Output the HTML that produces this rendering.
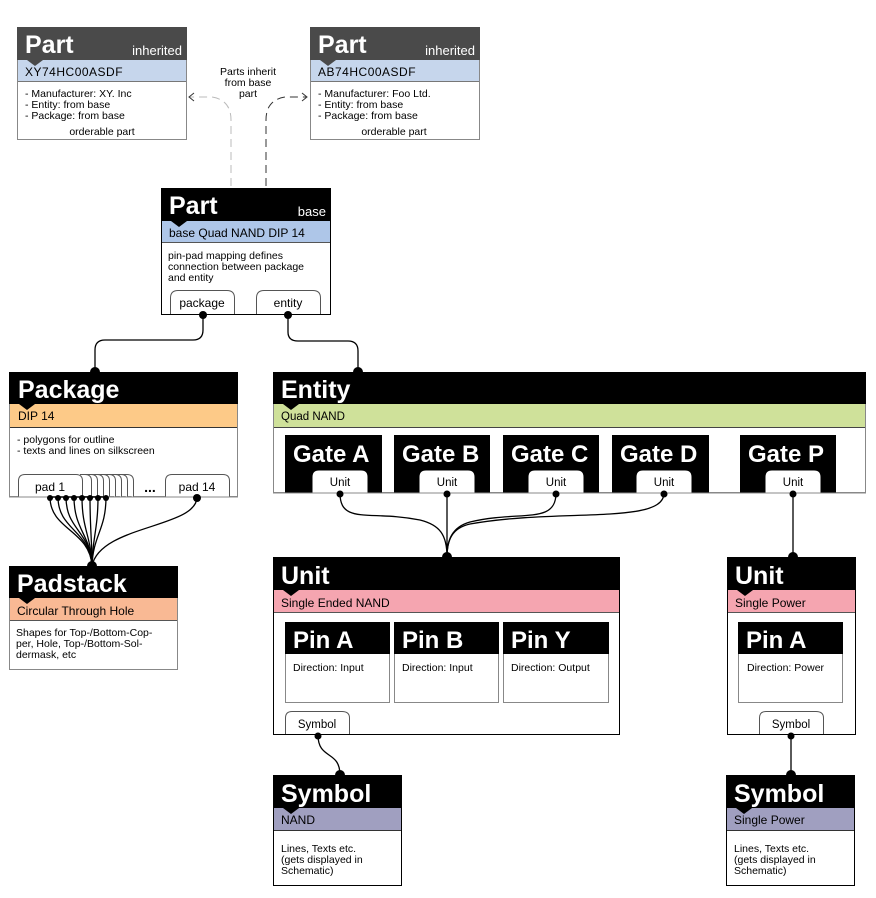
<!DOCTYPE html>
<html><head><meta charset="utf-8"><style>
html,body{margin:0;padding:0;background:#fff;}
svg{display:block;font-family:"Liberation Sans",sans-serif;}
.t{font-weight:bold;font-size:25px;fill:#fff;}
.tp{font-weight:bold;font-size:24px;fill:#fff;}
.s{font-size:12px;fill:#000;}
.b{font-size:10.5px;fill:#000;}
.tab{fill:#fff;stroke:#555;stroke-width:1;}
.c{fill:none;stroke:#000;stroke-width:1.3;}
</style></head><body>
<svg width="876" height="898" viewBox="0 0 876 898" xmlns="http://www.w3.org/2000/svg">
<path d="M231,186 V120 Q231,100 212,97 H190" fill="none" stroke="#bbb" stroke-width="1" stroke-dasharray="8,5"/>
<path d="M266,186 V120 Q266,100 285,97 H306" fill="none" stroke="#333" stroke-width="1" stroke-dasharray="8,5"/>
<path d="M194,93 L189,97 L194,101" fill="none" stroke="#333" stroke-width="1"/>
<path d="M302,93 L307,97 L302,101" fill="none" stroke="#333" stroke-width="1"/>
<text x="248" y="75" text-anchor="middle" class="b" fill="#333">Parts inherit</text>
<text x="248" y="86" text-anchor="middle" class="b">from base</text>
<text x="248" y="97" text-anchor="middle" class="b">part</text>

<rect x="17.5" y="27.5" width="169" height="112" fill="#fff" stroke="#888"/>
<rect x="17" y="27" width="170" height="33" fill="#4a4a4a"/>
<rect x="18" y="60" width="168" height="21" fill="#c6d6ec"/>
<line x1="18" y1="81.5" x2="186" y2="81.5" stroke="#777"/>
<path d="M27,60 L35,66 L43,60Z" fill="#4a4a4a"/>
<text x="25" y="53" class="t">Part</text>
<text x="182" y="55" text-anchor="end" style="font-size:13px;fill:#fff">inherited</text>
<text x="25" y="76" class="s" fill="#333" style="letter-spacing:0.5px">XY74HC00ASDF</text>
<text x="25" y="97" class="b">- Manufacturer: XY. Inc</text>
<text x="25" y="108" class="b">- Entity:  from base</text>
<text x="25" y="119" class="b">- Package: from base</text>
<text x="102" y="135" text-anchor="middle" class="b">orderable part</text>

<rect x="310.5" y="27.5" width="169" height="112" fill="#fff" stroke="#888"/>
<rect x="310" y="27" width="170" height="33" fill="#4a4a4a"/>
<rect x="311" y="60" width="168" height="21" fill="#c6d6ec"/>
<line x1="311" y1="81.5" x2="479" y2="81.5" stroke="#777"/>
<path d="M320,60 L328,66 L336,60Z" fill="#4a4a4a"/>
<text x="318" y="53" class="t">Part</text>
<text x="475" y="55" text-anchor="end" style="font-size:13px;fill:#fff">inherited</text>
<text x="318" y="76" class="s" style="letter-spacing:0.5px">AB74HC00ASDF</text>
<text x="318" y="97" class="b">- Manufacturer: Foo Ltd.</text>
<text x="318" y="108" class="b">- Entity:  from base</text>
<text x="318" y="119" class="b">- Package: from base</text>
<text x="394" y="135" text-anchor="middle" class="b">orderable part</text>

<rect x="161.5" y="188.5" width="169" height="126" fill="#fff" stroke="#000"/>
<rect x="161" y="188" width="170" height="33" fill="#000"/>
<rect x="162" y="221" width="168" height="21" fill="#aec6e8"/>
<line x1="162" y1="242.5" x2="330" y2="242.5" stroke="#555"/>
<path d="M171,221 L179,227 L187,221Z" fill="#000"/>
<text x="169" y="214" class="t">Part</text>
<text x="326" y="216" text-anchor="end" style="font-size:13px;fill:#fff">base</text>
<text x="169" y="237" class="s">base Quad NAND DIP 14</text>
<text x="168" y="259" class="b">pin-pad mapping defines</text>
<text x="168" y="270" class="b">connection between package</text>
<text x="168" y="281" class="b">and entity</text>
<path class="tab" d="M170.5,314 V298 Q170.5,290.5 178,290.5 H227 Q234.5,290.5 234.5,298 V314"/>
<text x="202" y="307" text-anchor="middle" class="s">package</text>
<path class="tab" d="M256.5,314 V298 Q256.5,290.5 264,290.5 H313 Q320.5,290.5 320.5,298 V314"/>
<text x="288" y="307" text-anchor="middle" class="s">entity</text>
<line x1="161" y1="314.5" x2="331" y2="314.5" stroke="#000"/>

<path class="c" d="M203,314 V330 Q203,340 193,340 H105 Q95,340 95,350 V372"/>
<circle cx="203" cy="315" r="4"/><circle cx="95" cy="372" r="5"/>
<path class="c" d="M288,314 V332 Q288,341 298,341 H348 Q358,341 358,351 V372"/>
<circle cx="288" cy="315" r="4"/><circle cx="358" cy="372" r="5"/>

<rect x="9.5" y="372.5" width="228" height="124" fill="#fff" stroke="#888"/>
<rect x="9" y="372" width="229" height="32" fill="#000"/>
<rect x="10" y="404" width="227" height="23" fill="#fdca88"/>
<line x1="10" y1="427.5" x2="237" y2="427.5" stroke="#333"/>
<path d="M19,404 L27,410 L35,404Z" fill="#000"/>
<text x="18" y="398" class="t">Package</text>
<text x="18" y="420" class="s">DIP 14</text>
<text x="17" y="443" class="b">- polygons for outline</text>
<text x="17" y="454" class="b">- texts and lines on silkscreen</text>
<g class="tab">
<path d="M133.5,497 V481 Q133.5,474.5 127,474.5 H80" fill="#fff"/>
<path d="M127.5,497 V481 Q127.5,474.5 121,474.5 H80" fill="#fff"/>
<path d="M121.5,497 V481 Q121.5,474.5 115,474.5 H80" fill="#fff"/>
<path d="M115.5,497 V481 Q115.5,474.5 109,474.5 H80" fill="#fff"/>
<path d="M109.5,497 V481 Q109.5,474.5 103,474.5 H80" fill="#fff"/>
<path d="M103.5,497 V481 Q103.5,474.5 97,474.5 H80" fill="#fff"/>
<path d="M97.5,497 V481 Q97.5,474.5 91,474.5 H80" fill="#fff"/>
<path d="M91.5,497 V481 Q91.5,474.5 85,474.5 H80" fill="#fff"/>
<path d="M18.5,497 V481 Q18.5,474.5 25,474.5 H76 Q82.5,474.5 82.5,481 V497"/>
<path d="M165.5,497 V481 Q165.5,474.5 172,474.5 H223 Q229.5,474.5 229.5,481 V497"/>
</g>
<text x="50" y="491" text-anchor="middle" class="s">pad 1</text>
<text x="150" y="492" text-anchor="middle" style="font-size:14px;font-weight:bold">...</text>
<text x="197" y="491" text-anchor="middle" class="s">pad 14</text>
<line x1="9" y1="497" x2="238" y2="497" stroke="#888"/>

<g class="c" stroke-width="1">
<path d="M50,497 C50,530 90,530 92,566"/>
<path d="M58,497 C58,530 90,530 92,566"/>
<path d="M66,497 C66,530 90,530 92,566"/>
<path d="M74,497 C74,530 91,535 92,566"/>
<path d="M82,497 C82,530 91,535 92,566"/>
<path d="M90,497 C90,530 92,540 92,566"/>
<path d="M98,497 C98,530 92,540 92,566"/>
<path d="M106,497 C106,530 93,535 92,566"/>
<path d="M197,497 C197,528 100,525 92,566"/>
</g>
<line x1="48" y1="497" x2="108" y2="497" stroke="#000" stroke-width="1.5"/>
<g>
<circle cx="50" cy="498" r="3"/><circle cx="58" cy="498" r="3"/><circle cx="66" cy="498" r="3"/><circle cx="74" cy="498" r="3"/>
<circle cx="82" cy="498" r="3"/><circle cx="90" cy="498" r="3"/><circle cx="98" cy="498" r="3"/><circle cx="106" cy="498" r="3"/>
</g>
<circle cx="197" cy="498" r="4"/>
<circle cx="92" cy="566" r="5"/>

<rect x="9.5" y="566.5" width="168" height="103" fill="#fff" stroke="#888"/>
<rect x="9" y="566" width="169" height="32" fill="#000"/>
<rect x="10" y="598" width="167" height="22" fill="#f9b994"/>
<line x1="10" y1="620.5" x2="177" y2="620.5" stroke="#555"/>
<path d="M19,598 L27,604 L35,598Z" fill="#000"/>
<text x="17" y="592" class="t">Padstack</text>
<text x="17" y="615" class="s">Circular Through Hole</text>
<text x="16" y="636" class="b">Shapes for Top-/Bottom-Cop-</text>
<text x="16" y="647" class="b">per, Hole, Top-/Bottom-Sol-</text>
<text x="16" y="658" class="b">dermask, etc</text>

<rect x="273.5" y="372.5" width="592" height="120" fill="#fff" stroke="#888"/>
<rect x="273" y="372" width="593" height="32" fill="#000"/>
<rect x="274" y="404" width="591" height="23" fill="#cfe19a"/>
<line x1="274" y1="427.5" x2="865" y2="427.5" stroke="#444"/>
<path d="M283,404 L291,410 L299,404Z" fill="#000"/>
<text x="281" y="398" class="t">Entity</text>
<text x="281" y="420" class="b" style="font-size:11.5px">Quad NAND</text>
<g>
<rect x="285" y="435" width="97" height="58" fill="#000"/>
<rect x="394" y="435" width="96" height="58" fill="#000"/>
<rect x="503" y="435" width="96" height="58" fill="#000"/>
<rect x="612" y="435" width="97" height="58" fill="#000"/>
<rect x="740" y="435" width="96" height="58" fill="#000"/>
</g>
<text x="293" y="462" class="tp">Gate A</text>
<text x="402" y="462" class="tp">Gate B</text>
<text x="511" y="462" class="tp">Gate C</text>
<text x="620" y="462" class="tp">Gate D</text>
<text x="748" y="462" class="tp">Gate P</text>
<g class="tab" style="stroke:#000">
<path d="M312,493 V477 Q312,470 319,470 H361 Q368,470 368,477 V493"/>
<path d="M419,493 V477 Q419,470 426,470 H468 Q475,470 475,477 V493"/>
<path d="M528,493 V477 Q528,470 535,470 H577 Q584,470 584,477 V493"/>
<path d="M636,493 V477 Q636,470 643,470 H685 Q692,470 692,477 V493"/>
<path d="M765,493 V477 Q765,470 772,470 H814 Q821,470 821,477 V493"/>
</g>
<text x="340" y="486" text-anchor="middle" class="b" style="font-size:11.5px">Unit</text>
<text x="447" y="486" text-anchor="middle" class="b" style="font-size:11.5px">Unit</text>
<text x="556" y="486" text-anchor="middle" class="b" style="font-size:11.5px">Unit</text>
<text x="664" y="486" text-anchor="middle" class="b" style="font-size:11.5px">Unit</text>
<text x="793" y="486" text-anchor="middle" class="b" style="font-size:11.5px">Unit</text>
<line x1="273" y1="493" x2="866" y2="493" stroke="#888"/>

<g class="c" stroke-width="1.1">
<path d="M340,493 C340,525 370,510 420,520 C440,525 447,535 447,557"/>
<line x1="447" y1="493" x2="447" y2="557"/>
<path d="M556,493 C556,525 520,510 470,522 C452,527 447,540 447,557"/>
<path d="M664,493 C664,525 560,508 470,524 C452,528 447,540 447,557"/>
<line x1="793" y1="493" x2="793" y2="557"/>
</g>
<circle cx="340" cy="494" r="3.5"/><circle cx="447" cy="494" r="3.5"/><circle cx="556" cy="494" r="3.5"/><circle cx="664" cy="494" r="3.5"/><circle cx="793" cy="494" r="3.5"/>
<circle cx="447" cy="557" r="5"/><circle cx="793" cy="557" r="5"/>

<rect x="273.5" y="557.5" width="346" height="177" fill="#fff" stroke="#000"/>
<rect x="273" y="557" width="347" height="33" fill="#000"/>
<rect x="274" y="590" width="345" height="22" fill="#f5a5b0"/>
<line x1="274" y1="612.5" x2="619" y2="612.5" stroke="#555"/>
<path d="M283,590 L291,596 L299,590Z" fill="#000"/>
<text x="281" y="584" class="t">Unit</text>
<text x="281" y="607" class="s">Single Ended NAND</text>
<g fill="#fff" stroke="#888">
<rect x="285.5" y="622.5" width="104" height="80"/>
<rect x="394.5" y="622.5" width="104" height="80"/>
<rect x="503.5" y="622.5" width="105" height="80"/>
</g>
<rect x="285" y="622" width="105" height="32" fill="#000"/>
<rect x="394" y="622" width="105" height="32" fill="#000"/>
<rect x="503" y="622" width="106" height="32" fill="#000"/>
<text x="293" y="648" class="tp">Pin A</text>
<text x="402" y="648" class="tp">Pin B</text>
<text x="511" y="648" class="tp">Pin Y</text>
<text x="293" y="671" class="b">Direction: Input</text>
<text x="402" y="671" class="b">Direction: Input</text>
<text x="511" y="671" class="b">Direction: Output</text>
<path class="tab" d="M285.5,735 V718 Q285.5,711.5 292,711.5 H342 Q349.5,711.5 349.5,718 V735"/>
<text x="317" y="728" text-anchor="middle" class="b" style="font-size:11.5px">Symbol</text>
<line x1="273" y1="734.5" x2="620" y2="734.5" stroke="#000"/>

<rect x="727.5" y="557.5" width="128" height="177" fill="#fff" stroke="#000"/>
<rect x="727" y="557" width="129" height="33" fill="#000"/>
<rect x="728" y="590" width="127" height="22" fill="#f5a5b0"/>
<line x1="728" y1="612.5" x2="855" y2="612.5" stroke="#555"/>
<path d="M737,590 L745,596 L753,590Z" fill="#000"/>
<text x="735" y="584" class="t">Unit</text>
<text x="735" y="607" class="s">Single Power</text>
<rect x="738.5" y="622.5" width="104" height="80" fill="#fff" stroke="#888"/>
<rect x="738" y="622" width="105" height="32" fill="#000"/>
<text x="746" y="648" class="tp">Pin A</text>
<text x="747" y="671" class="b">Direction: Power</text>
<path class="tab" d="M759.5,735 V718 Q759.5,711.5 766,711.5 H816 Q823.5,711.5 823.5,718 V735"/>
<text x="791" y="728" text-anchor="middle" class="b" style="font-size:11.5px">Symbol</text>
<line x1="727" y1="734.5" x2="856" y2="734.5" stroke="#000"/>

<path class="c" d="M318,735 C318,760 340,750 340,775"/>
<circle cx="318" cy="736" r="3.5"/><circle cx="340" cy="775" r="5"/>
<line class="c" x1="791" y1="735" x2="791" y2="775"/>
<circle cx="791" cy="736" r="3.5"/><circle cx="791" cy="775" r="5"/>

<rect x="273.5" y="775.5" width="128" height="110" fill="#fff" stroke="#000"/>
<rect x="273" y="775" width="129" height="33" fill="#000"/>
<rect x="274" y="808" width="127" height="22" fill="#a09fc0"/>
<line x1="274" y1="830.5" x2="401" y2="830.5" stroke="#333"/>
<path d="M283,808 L291,814 L299,808Z" fill="#000"/>
<text x="281" y="802" class="t">Symbol</text>
<text x="281" y="824" class="s">NAND</text>
<text x="281" y="852" class="b">Lines, Texts etc.</text>
<text x="281" y="863" class="b">(gets displayed in</text>
<text x="281" y="874" class="b">Schematic)</text>

<rect x="726.5" y="775.5" width="128" height="110" fill="#fff" stroke="#000"/>
<rect x="726" y="775" width="129" height="33" fill="#000"/>
<rect x="727" y="808" width="127" height="22" fill="#a09fc0"/>
<line x1="727" y1="830.5" x2="854" y2="830.5" stroke="#333"/>
<path d="M736,808 L744,814 L752,808Z" fill="#000"/>
<text x="734" y="802" class="t">Symbol</text>
<text x="734" y="824" class="s">Single Power</text>
<text x="734" y="852" class="b">Lines, Texts etc.</text>
<text x="734" y="863" class="b">(gets displayed in</text>
<text x="734" y="874" class="b">Schematic)</text>
</svg>
</body></html>
